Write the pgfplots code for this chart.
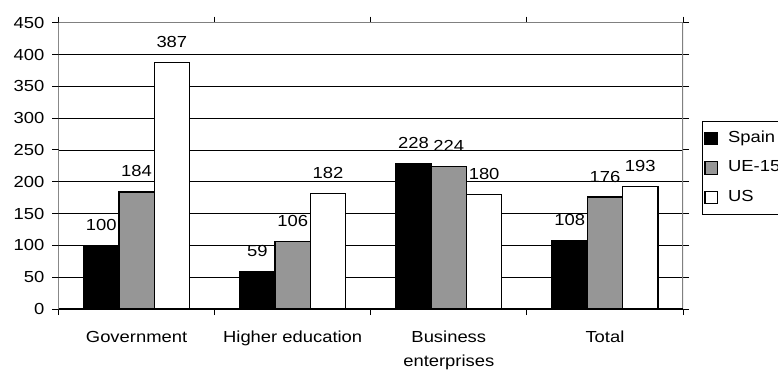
\documentclass[border=0pt]{standalone}
\usepackage{fontspec}
\setmainfont{Liberation Sans}[FakeStretch=1.15]
\usepackage{pgfplots}
\pgfplotsset{compat=1.18}
\definecolor{bargray}{RGB}{150,150,150}
\definecolor{framegray}{RGB}{128,128,128}

\begin{document}
\begin{tikzpicture}[x=1pt,y=1pt,font=\fontsize{16}{24}\selectfont]
\useasboundingbox (0,0) rectangle (778,369);
\clip (0,0) rectangle (778,369);
\begin{axis}[
  at={(58.5pt,60pt)}, anchor=south west, scale only axis,
  width=624.5pt, height=286.3pt,
  xmin=-0.5, xmax=3.5, ymin=0, ymax=450,
  ybar=0pt, bar width=35.3pt,
  /pgf/number format/assume math mode=true,
  ytick={0,50,...,450},
  xtick={-0.5,0.5,1.5,2.5,3.5},
  x tick label as interval=true,
  xticklabels={Government,Higher education,{Business\\enterprises},Total},
  xticklabel style={align=center, anchor=north, inner sep=0pt, yshift=-16pt},
  yticklabel style={anchor=east, inner sep=0pt, xshift=-8pt},
  tick align=outside, major tick length=6pt,
  tick style={black, line width=1pt},
  axis line style={draw=none},
  ymajorgrids, grid style={black, line width=0.8pt},
  nodes near coords,
  every node near coord/.append style={anchor=base, yshift=15pt, black},
  legend style={at={(1.0304,0.6567)}, anchor=north west, draw=black,
    line width=1pt, fill=white, inner xsep=2pt, inner ysep=6.5pt,
    row sep=8.5pt,
    nodes={text height=11.5pt, text depth=3.5pt, inner sep=3pt},
    column 2/.style={text width=62pt}},
  legend cell align=left,
  legend image code/.code={%
    \draw[#1, line width=1.2pt] (0pt,-6.25pt) rectangle (12.5pt,6.25pt);
    \path[draw=none, fill=none] (0pt,0pt) rectangle (20pt,0.1pt);},
]
\addplot[fill=black, draw=black, line width=1.4pt]
  coordinates {(0,100) (1,59) (2,228) (3,108)};
\addlegendentry{Spain}
\addplot[fill=bargray, draw=black, line width=1.4pt]
  coordinates {(0,184) (1,106) (2,224) (3,176)};
\addlegendentry{UE-15}
\addplot[fill=white, draw=black, line width=1.4pt]
  coordinates {(0,387) (1,182) (2,180) (3,193)};
\addlegendentry{US}
% plot area border and the two axis lines
\draw[framegray, line width=1.6pt] (rel axis cs:0,0) rectangle (rel axis cs:1,1);
\draw[black, line width=1.2pt] (rel axis cs:0,1) -- (rel axis cs:0,0) -- (rel axis cs:1,0);
\end{axis}
\end{tikzpicture}
\end{document}
